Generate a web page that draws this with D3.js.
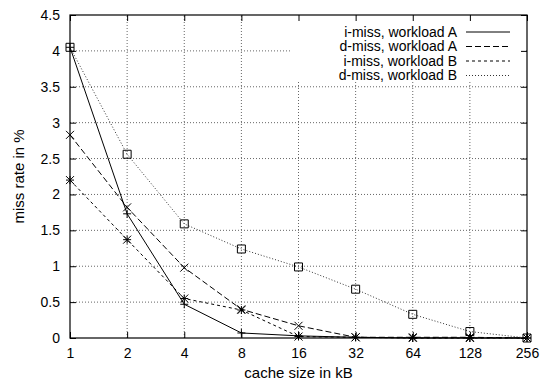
<!DOCTYPE html>
<html lang="en">
  <head>
    <meta charset="UTF-8" />
    <title>Cache miss rate</title>
    <script src="https://d3js.org/d3.v7.min.js"></script>
    <style>
      body { margin: 0; padding: 0; background: #fff; }
      svg { display: block; font-family: "Liberation Sans", Arial, sans-serif; }
      .tick text { font-size: 14px; fill: #000; }
      .grid line { stroke: #666; stroke-dasharray: 1,2; }
      .legend text { font-size: 14px; fill: #000; }
    </style>
  </head>
  <body>
    <script>
      // Data
      const cacheSizes = [1, 2, 4, 8, 16, 32, 64, 128, 256];
      const iMissA = [4.05, 1.73, 0.47, 0.07, 0.03, 0.01, 0.0, 0.0, 0.0];
      const dMissA = [2.83, 1.82, 0.98, 0.40, 0.17, 0.01, 0.01, 0.01, 0.0];
      const iMissB = [2.20, 1.37, 0.55, 0.39, 0.02, 0.01, 0.0, 0.0, 0.0];
      const dMissB = [4.05, 2.56, 1.59, 1.24, 0.99, 0.68, 0.33, 0.09, 0.0];
      const yTicks = [0, 0.5, 1, 1.5, 2, 2.5, 3, 3.5, 4, 4.5];

      const series = [
        { name: "i-miss, workload A", values: iMissA, dash: null, stroke: "#000", marker: "plus" },
        { name: "d-miss, workload A", values: dMissA, dash: "6,3", stroke: "#000", marker: "cross" },
        { name: "i-miss, workload B", values: iMissB, dash: "3,3", stroke: "#000", marker: "star" },
        { name: "d-miss, workload B", values: dMissB, dash: "1,2", stroke: "#333", marker: "square" }
      ];

      const width = 541, height = 383;
      const margin = { top: 15, right: 14, bottom: 45, left: 70 };
      const plotW = width - margin.left - margin.right;
      const plotH = height - margin.top - margin.bottom;

      const svg = d3.select("body").append("svg")
        .attr("width", width)
        .attr("height", height);

      const x = d3.scaleLog().base(2).domain([1, 256]).range([margin.left, margin.left + plotW]);
      const y = d3.scaleLinear().domain([0, 4.5]).range([margin.top + plotH, margin.top]);

      // Grid
      const grid = svg.append("g").attr("class", "grid");
      grid.selectAll(".gx").data(cacheSizes.slice(1, -1)).enter().append("line")
        .attr("x1", d => x(d)).attr("x2", d => x(d))
        .attr("y1", y(0)).attr("y2", y(4.5));
      grid.selectAll(".gy").data(yTicks.slice(1, -1)).enter().append("line")
        .attr("x1", x(1)).attr("x2", x(256))
        .attr("y1", d => y(d)).attr("y2", d => y(d));

      // Legend backing (hides grid behind the key, as gnuplot does)
      const legendX = 457, legendY = 32, legendStep = 14.5;
      svg.append("rect")
        .attr("x", 290).attr("y", margin.top + 1)
        .attr("width", x(256) - 291).attr("height", 66)
        .attr("fill", "#fff");

      // Axes with inward ticks on all sides
      const tickLen = 6;
      svg.append("g")
        .attr("transform", `translate(0,${y(0)})`)
        .call(d3.axisBottom(x).tickValues(cacheSizes).tickFormat(d3.format("d")).tickSizeInner(-tickLen).tickSizeOuter(0).tickPadding(10))
        .call(g => g.select(".domain").remove());
      svg.append("g")
        .attr("transform", `translate(0,${y(4.5)})`)
        .call(d3.axisTop(x).tickValues(cacheSizes).tickFormat("").tickSizeInner(-tickLen).tickSizeOuter(0))
        .call(g => g.select(".domain").remove());
      svg.append("g")
        .attr("transform", `translate(${x(1)},0)`)
        .call(d3.axisLeft(y).tickValues(yTicks).tickFormat(d3.format("")).tickSizeInner(-tickLen).tickSizeOuter(0).tickPadding(10))
        .call(g => g.select(".domain").remove());
      svg.append("g")
        .attr("transform", `translate(${x(256)},0)`)
        .call(d3.axisRight(y).tickValues(yTicks).tickFormat("").tickSizeInner(-tickLen).tickSizeOuter(0))
        .call(g => g.select(".domain").remove());
      svg.selectAll(".tick line").attr("stroke", "#000");

      // Frame
      svg.append("rect")
        .attr("x", x(1)).attr("y", y(4.5))
        .attr("width", x(256) - x(1)).attr("height", y(0) - y(4.5))
        .attr("fill", "none").attr("stroke", "#000").attr("stroke-width", 1.2);

      // Axis titles
      svg.append("text")
        .attr("x", (x(1) + x(256)) / 2).attr("y", 378)
        .attr("text-anchor", "middle").attr("font-size", 15)
        .text("cache size in kB");
      svg.append("text")
        .attr("transform", `translate(24,${(y(0) + y(4.5)) / 2}) rotate(-90)`)
        .attr("text-anchor", "middle").attr("font-size", 15)
        .text("miss rate in %");

      // Markers
      function markerPath(type, s) {
        const p = d3.path();
        if (type === "plus") {
          p.moveTo(-s, 0); p.lineTo(s, 0); p.moveTo(0, -s); p.lineTo(0, s);
        } else if (type === "cross") {
          p.moveTo(-s, -s); p.lineTo(s, s); p.moveTo(-s, s); p.lineTo(s, -s);
        } else if (type === "star") {
          p.moveTo(-s, 0); p.lineTo(s, 0); p.moveTo(0, -s); p.lineTo(0, s);
          p.moveTo(-s, -s); p.lineTo(s, s); p.moveTo(-s, s); p.lineTo(s, -s);
        } else {
          p.rect(-s, -s, 2 * s, 2 * s);
        }
        return p.toString();
      }

      const line = d3.line().x((d, i) => x(cacheSizes[i])).y(d => y(d));

      series.forEach(s => {
        svg.append("path")
          .attr("d", line(s.values))
          .attr("fill", "none")
          .attr("stroke", s.stroke)
          .attr("stroke-width", 1)
          .attr("stroke-dasharray", s.dash);
        svg.append("g").selectAll("path").data(s.values).enter().append("path")
          .attr("transform", (d, i) => `translate(${x(cacheSizes[i])},${y(d)})`)
          .attr("d", markerPath(s.marker, 4))
          .attr("fill", "none")
          .attr("stroke", "#000")
          .attr("stroke-width", 1);
      });

      // Legend
      const legend = svg.append("g").attr("class", "legend");
      series.forEach((s, i) => {
        const ly = legendY + i * legendStep;
        legend.append("text")
          .attr("x", legendX).attr("y", ly).attr("dy", "0.35em")
          .attr("text-anchor", "end")
          .text(s.name);
        legend.append("line")
          .attr("x1", 466).attr("x2", 510)
          .attr("y1", ly).attr("y2", ly)
          .attr("stroke", s.stroke)
          .attr("stroke-dasharray", s.dash);
      });
    </script>
  </body>
</html>
